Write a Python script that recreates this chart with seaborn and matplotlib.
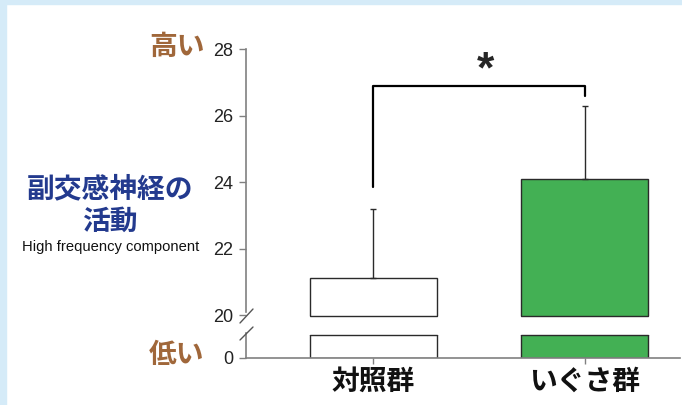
import numpy as np
import pandas as pd
import matplotlib
matplotlib.use('Agg')
import matplotlib.pyplot as plt
import seaborn as sns
from matplotlib.patches import Rectangle
from matplotlib.lines import Line2D

# data ------------------------------------------
groups = ['対照群', 'いぐさ群']
means = [21.1, 24.1]          # bar height (mean)
errs = [2.1, 2.2]             # upper error bar
bar_colors = ['#ffffff', '#43b054']
upper_ticks = [20, 22, 24, 26, 28]
lower_ticks = [0]
# significance bracket (left leg end, top, right leg end)
bracket = [23.85, 26.9, 26.6]

sns.set_theme(style='white')
plt.rcParams['font.family'] = ['Liberation Sans', 'Noto Sans CJK JP', 'DejaVu Sans']

df = pd.DataFrame({'group': groups, 'value': means})

W, H = 682, 405
fig = plt.figure(figsize=(W / 100, H / 100), dpi=100)
fig.patch.set_facecolor('white')

# light blue frame on left and top
fig.patches.append(Rectangle((0, 0), 6 / W, 1, transform=fig.transFigure, color='#d5ebf8', zorder=0))
fig.patches.append(Rectangle((0, 1 - 4 / H), 1, 4 / H, transform=fig.transFigure, color='#d5ebf8', zorder=0))

ax_top = fig.add_axes([246 / W, (H - 316) / H, 434 / W, 267 / H])
ax_bot = fig.add_axes([246 / W, (H - 358) / H, 434 / W, 23 / H])

spine_col = '#808080'
edge_col = '#2a2a2a'

for ax in (ax_top, ax_bot):
    sns.barplot(data=df, x='group', y='value', hue='group', palette=bar_colors, saturation=1,
                width=0.6, edgecolor=edge_col, linewidth=1, ax=ax, legend=False)
    ax.set_xlim(-0.6, 1.45)
    ax.set_xlabel('')
    ax.set_ylabel('')
    ax.set_facecolor('none')
    for s in ['top', 'right']:
        ax.spines[s].set_visible(False)
    ax.spines['left'].set_color(spine_col)
    ax.spines['left'].set_linewidth(1.2)
    ax.tick_params(axis='y', which='both', left=True, length=5, width=1, color=spine_col,
                   labelsize=13, labelcolor='#222222', pad=4)

# upper part ------------------------------------
lo = 19.97
ax_top.set_ylim(lo, 28.0)
ax_top.set_yticks(upper_ticks)
ax_top.spines['bottom'].set_visible(False)
ax_top.spines['left'].set_bounds(20.09, 28.0)
ax_top.set_xticks([])
for p in ax_top.patches:
    ax_top.plot([p.get_x(), p.get_x() + p.get_width()], [lo, lo], color=edge_col, lw=1, clip_on=False)

ax_top.errorbar(range(len(groups)), means, yerr=[[0] * len(errs), errs], fmt='none',
                ecolor=edge_col, elinewidth=1, capsize=2.2, capthick=1)

# significance bracket
ax_top.plot([0, 0, 1, 1], [bracket[0], bracket[1], bracket[1], bracket[2]],
            color='black', lw=1.6, clip_on=False)
ax_top.text(0.53, 27.35, '*', fontsize=32, fontweight='bold', ha='center', va='center')

# lower part ------------------------------------
ax_bot.set_ylim(0, 1.0)
ax_bot.set_yticks(lower_ticks)
ax_bot.spines['left'].set_bounds(0, 1.1)
ax_bot.spines['bottom'].set_color(spine_col)
ax_bot.spines['bottom'].set_linewidth(1.2)
for p in ax_bot.patches:
    ax_bot.plot([p.get_x(), p.get_x() + p.get_width()], [1, 1], color=edge_col, lw=1, clip_on=False)
ax_bot.set_xticks(range(len(groups)))
ax_bot.set_xticklabels(groups, fontsize=20, fontweight='bold', color='#111111',
                       family=['Noto Sans CJK JP', 'DejaVu Sans'])
ax_bot.tick_params(axis='x', bottom=True, length=4, width=1, color=spine_col, pad=3)

# axis break marks
for y0, y1 in [(323, 309), (340, 327)]:
    fig.add_artist(Line2D([240 / W, 253 / W], [1 - y0 / H, 1 - y1 / H],
                          transform=fig.transFigure, color='#555555', lw=1))

# left side labels ------------------------------
jp = ['Noto Sans CJK JP', 'DejaVu Sans']
brown = '#a0673a'
blue = '#233a8e'
fig.text(177 / W, 1 - 47 / H, '高い', fontsize=20, fontweight='bold', color=brown,
         ha='center', va='center', family=jp)
fig.text(177 / W, 1 - 355 / H, '低い', fontsize=20, fontweight='bold', color=brown,
         ha='center', va='center', family=jp)
fig.text(110 / W, 1 - 189 / H, '副交感神経の', fontsize=20, fontweight='bold', color=blue,
         ha='center', va='center', family=jp)
fig.text(110 / W, 1 - 222 / H, '活動', fontsize=20, fontweight='bold', color=blue,
         ha='center', va='center', family=jp)
fig.text(111 / W, 1 - 247 / H, 'High frequency component', fontsize=10.6, color='#111111',
         ha='center', va='center')

fig.savefig('out.png', dpi=100)
